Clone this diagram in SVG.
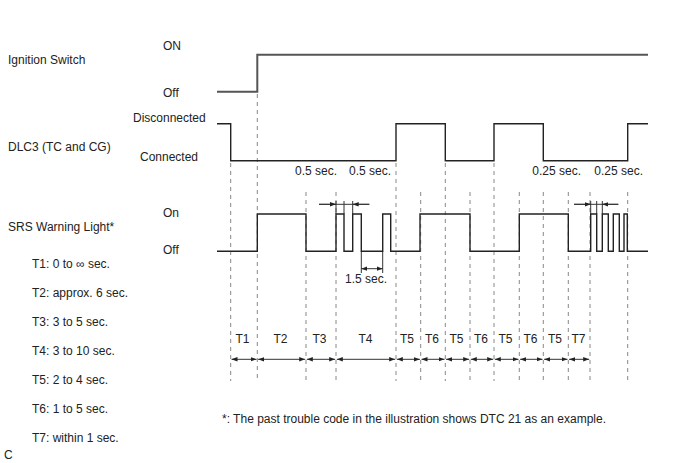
<svg xmlns="http://www.w3.org/2000/svg" width="688" height="463" viewBox="0 0 688 463">
<defs>
<style>
text{font-family:"Liberation Sans",Arial,sans-serif;font-size:12px;fill:#222}
.sig{fill:none;stroke:#222;stroke-width:1.4}
.ign{fill:none;stroke:#555;stroke-width:2}
.dash{stroke:#888;stroke-width:1;stroke-dasharray:4 4;fill:none}
.dim{stroke:#333;stroke-width:1;fill:none}
.arr{stroke:#333;stroke-width:1;fill:none;marker-end:url(#ah);marker-start:url(#ahs)}
.mid{text-anchor:middle}
.end{text-anchor:end}
</style>
<marker id="ah" viewBox="0 0 6 6" refX="6" refY="3" markerWidth="6" markerHeight="6" markerUnits="userSpaceOnUse" orient="auto">
<path d="M0,0.8 L6,3 L0,5.2 Z" fill="#222"/>
</marker>
<marker id="ahs" viewBox="0 0 6 6" refX="0" refY="3" markerWidth="6" markerHeight="6" markerUnits="userSpaceOnUse" orient="auto">
<path d="M6,0.8 L0,3 L6,5.2 Z" fill="#222"/>
</marker>
</defs>
<g id="labels">
<text x="8" y="64">Ignition Switch</text>
<text x="163" y="50">ON</text>
<text x="163" y="97">Off</text>
<text x="8" y="151">DLC3 (TC and CG)</text>
<text x="133" y="122">Disconnected</text>
<text x="140" y="161">Connected</text>
<text x="8" y="231">SRS Warning Light*</text>
<text x="163" y="217">On</text>
<text x="163" y="254">Off</text>
</g>
<g id="legend">
<text x="32" y="268">T1: 0 to ∞ sec.</text>
<text x="32" y="297">T2: approx. 6 sec.</text>
<text x="32" y="326">T3: 3 to 5 sec.</text>
<text x="32" y="355">T4: 3 to 10 sec.</text>
<text x="32" y="384">T5: 2 to 4 sec.</text>
<text x="32" y="413">T6: 1 to 5 sec.</text>
<text x="32" y="442">T7: within 1 sec.</text>
<text x="4" y="459">C</text>
<text x="222" y="423">*: The past trouble code in the illustration shows DTC 21 as an example.</text>
</g>
<g id="connectors">
<g id="dashed-guides">
<line class="dash" x1="230.7" y1="163" x2="230.7" y2="381"/>
<line class="dash" x1="257.3" y1="94" x2="257.3" y2="381"/>
<line class="dash" x1="306" y1="192" x2="306" y2="381"/>
<line class="dash" x1="336" y1="192" x2="336" y2="381"/>
<line class="dash" x1="396" y1="163" x2="396" y2="381"/>
<line class="dash" x1="420.7" y1="192" x2="420.7" y2="381"/>
<line class="dash" x1="445.3" y1="163" x2="445.3" y2="381"/>
<line class="dash" x1="470" y1="192" x2="470" y2="381"/>
<line class="dash" x1="494" y1="163" x2="494" y2="381"/>
<line class="dash" x1="519.3" y1="192" x2="519.3" y2="381"/>
<line class="dash" x1="543.3" y1="192" x2="543.3" y2="381"/>
<line class="dash" x1="568.3" y1="192" x2="568.3" y2="381"/>
<line class="dash" x1="590" y1="192" x2="590" y2="381"/>
<line class="dash" x1="627.7" y1="192" x2="627.7" y2="381"/>
</g>
<g id="period-arrows">
<line class="arr" x1="231.5" y1="359.3" x2="256.5" y2="359.3"/>
<line class="arr" x1="258.1" y1="359.3" x2="305.2" y2="359.3"/>
<line class="arr" x1="306.8" y1="359.3" x2="335.2" y2="359.3"/>
<line class="arr" x1="336.8" y1="359.3" x2="395.2" y2="359.3"/>
<line class="arr" x1="396.8" y1="359.3" x2="419.9" y2="359.3"/>
<line class="arr" x1="421.5" y1="359.3" x2="444.5" y2="359.3"/>
<line class="arr" x1="446.1" y1="359.3" x2="469.2" y2="359.3"/>
<line class="arr" x1="470.8" y1="359.3" x2="493.2" y2="359.3"/>
<line class="arr" x1="494.8" y1="359.3" x2="518.5" y2="359.3"/>
<line class="arr" x1="520.1" y1="359.3" x2="542.5" y2="359.3"/>
<line class="arr" x1="544.1" y1="359.3" x2="567.5" y2="359.3"/>
<line class="arr" x1="569.1" y1="359.3" x2="589.2" y2="359.3"/>
</g>
<g id="pulse-dims">
<line class="dim" x1="336" y1="201" x2="336" y2="214"/>
<line class="dim" x1="344" y1="201" x2="344" y2="214"/>
<line class="dim" x1="352.7" y1="201" x2="352.7" y2="214"/>
<line class="dim" x1="319" y1="204.3" x2="369.3" y2="204.3"/>
<line class="dim" x1="319" y1="204.3" x2="336" y2="204.3" style="marker-end:url(#ah)"/>
<line class="dim" x1="369.3" y1="204.3" x2="352.7" y2="204.3" style="marker-end:url(#ah)"/>
<line class="dim" x1="590.7" y1="201" x2="590.7" y2="214"/>
<line class="dim" x1="596.7" y1="201" x2="596.7" y2="214"/>
<line class="dim" x1="602.3" y1="201" x2="602.3" y2="214"/>
<line class="dim" x1="574" y1="204.3" x2="618.3" y2="204.3"/>
<line class="dim" x1="574" y1="204.3" x2="590.7" y2="204.3" style="marker-end:url(#ah)"/>
<line class="dim" x1="618.3" y1="204.3" x2="602.3" y2="204.3" style="marker-end:url(#ah)"/>
<line class="dim" x1="361.3" y1="251" x2="361.3" y2="273"/>
<line class="dim" x1="382.7" y1="251" x2="382.7" y2="273"/>
<line class="arr" x1="361.3" y1="268.7" x2="382.7" y2="268.7"/>
</g>
</g>
<g id="ignition">
<path class="ign" d="M217,91.7 H257.3 V54.7 H648"/>
</g>
<g id="dlc3">
<path class="sig" d="M217,123.7 H230.7 V160.7 H396 V123.7 H445.3 V160.7 H494 V123.7 H543.3 V160.7 H627.7 V123.7 H648"/>
<text class="end" x="337" y="175">0.5 sec.</text>
<text class="end" x="391" y="175">0.5 sec.</text>
<text class="end" x="581" y="175">0.25 sec.</text>
<text class="end" x="643" y="175">0.25 sec.</text>
</g>
<g id="srs">
<path class="sig" d="M217,251.3 H257.3 V214 H306 V251.3 H336 V214 H344 V251.3 H352.7 V214 H361.3 V251.3 H382.7 V214 H390.7 V251.3 H420 V214 H470 V251.3 H519.3 V214 H568.3 V251.3 H590.7 V214 H596.7 V251.3 H602.3 V214 H608.3 V251.3 H613.3 V214 H619.3 V251.3 H624 V214 H627.3 V251.3 H648"/>
<text class="mid" x="366" y="283">1.5 sec.</text>
</g>
<g id="periods">
<text class="mid" x="242.5" y="343">T1</text>
<text class="mid" x="280.5" y="343">T2</text>
<text class="mid" x="319.5" y="343">T3</text>
<text class="mid" x="365.5" y="343">T4</text>
<text class="mid" x="407" y="343">T5</text>
<text class="mid" x="432" y="343">T6</text>
<text class="mid" x="456.5" y="343">T5</text>
<text class="mid" x="481" y="343">T6</text>
<text class="mid" x="505.5" y="343">T5</text>
<text class="mid" x="530.5" y="343">T6</text>
<text class="mid" x="555" y="343">T5</text>
<text class="mid" x="578.5" y="343">T7</text>
</g>
</svg>
